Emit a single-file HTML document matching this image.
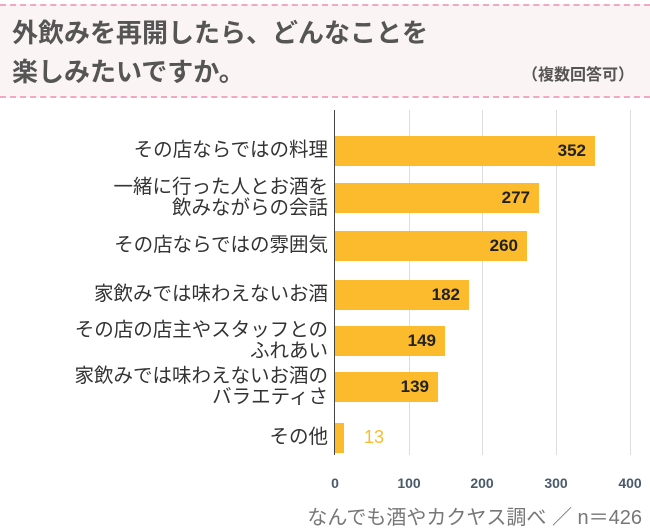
<!DOCTYPE html>
<html><head><meta charset="utf-8"><style>
body{margin:0;width:650px;height:531px;background:#fff;overflow:hidden;font-family:"Liberation Sans","Noto Sans CJK JP",sans-serif;position:relative}
.hd{position:absolute;left:0;top:4px;width:650px;height:90px;background:#fbf4f4;border-top:2px dashed #f2a7c3;border-bottom:2px dashed #f2a7c3}
.t{position:absolute;left:12px;font-size:26px;font-weight:bold;color:#555;white-space:nowrap}
.s{position:absolute;right:16px;top:61px;font-size:16px;font-weight:bold;color:#555}
.g{position:absolute;top:110px;width:1px;height:345px;background:#ddd}
.bar{position:absolute;left:335px;height:30px;background:#fbbb2c}
.v{position:absolute;font-size:17px;font-weight:bold;color:#222;text-align:right}
.l{position:absolute;right:322px;font-size:19.5px;color:#333;text-align:right;line-height:21px;white-space:nowrap}
.tk{position:absolute;top:475px;font-size:14px;font-weight:bold;color:#4a5a6a;width:40px;margin-left:-20px;text-align:center}
</style></head><body>
<div class="hd"></div>
<div class="t" style="top:13px">外飲みを再開したら、どんなことを</div>
<div class="t" style="top:52px">楽しみたいですか。</div>
<div class="s">（複数回答可）</div>
<div class="g" style="left:409px"></div><div class="g" style="left:482px"></div><div class="g" style="left:556px"></div><div class="g" style="left:630px"></div>
<div style="position:absolute;left:334px;top:110px;width:1px;height:345px;background:#444"></div>
<div class="bar" style="top:136px;width:260px"></div><div class="v" style="left:540px;top:141px;width:46px">352</div>
<div class="bar" style="top:183px;width:204px"></div><div class="v" style="left:484px;top:188px;width:46px">277</div>
<div class="bar" style="top:231px;width:192px"></div><div class="v" style="left:472px;top:236px;width:46px">260</div>
<div class="bar" style="top:280px;width:134px"></div><div class="v" style="left:414px;top:285px;width:46px">182</div>
<div class="bar" style="top:326px;width:110px"></div><div class="v" style="left:390px;top:331px;width:46px">149</div>
<div class="bar" style="top:372px;width:103px"></div><div class="v" style="left:383px;top:377px;width:46px">139</div>
<div class="bar" style="top:423px;width:9px"></div><div style="position:absolute;left:364px;top:427px;font-size:18px;color:#fbbb2c">13</div>
<div class="l" style="top:140px">その店ならではの料理</div>
<div class="l" style="top:177px">一緒に行った人とお酒を<br>飲みながらの会話</div>
<div class="l" style="top:235px">その店ならではの雰囲気</div>
<div class="l" style="top:284px">家飲みでは味わえないお酒</div>
<div class="l" style="top:320px">その店の店主やスタッフとの<br>ふれあい</div>
<div class="l" style="top:366px">家飲みでは味わえないお酒の<br>バラエティさ</div>
<div class="l" style="top:427px">その他</div>
<div class="tk" style="left:335px">0</div><div class="tk" style="left:409px">100</div><div class="tk" style="left:482px">200</div><div class="tk" style="left:556px">300</div><div class="tk" style="left:630px">400</div>
<div style="position:absolute;right:8px;top:501px;font-size:20px;color:#777;white-space:nowrap">なんでも酒やカクヤス調べ ／ n＝426</div>
</body></html>
